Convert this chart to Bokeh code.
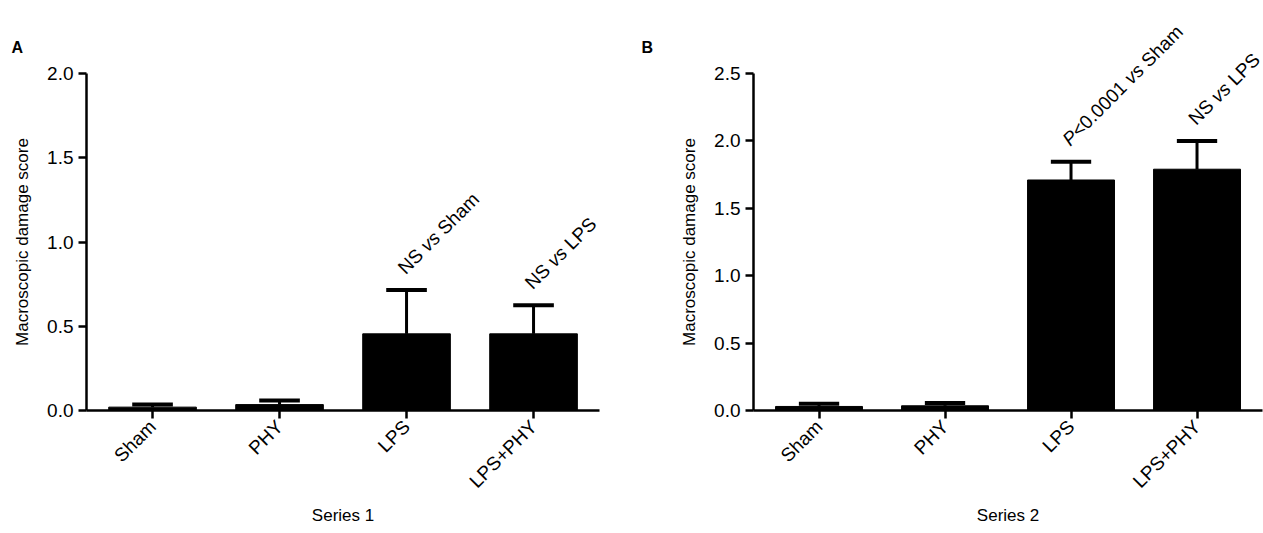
from math import pi

from bokeh.embed import file_html
from bokeh.resources import INLINE
from bokeh.layouts import row
from bokeh.models import (ColumnDataSource, Label, FixedTicker, Range1d, LinearAxis,
                          PrintfTickFormatter)
from bokeh.plotting import figure

groups = ["Sham", "PHY", "LPS", "LPS+PHY"]

mean_a = [0.02, 0.035, 0.455, 0.455]
err_a = [0.015, 0.025, 0.26, 0.17]
mean_b = [0.03, 0.035, 1.71, 1.79]
err_b = [0.02, 0.02, 0.135, 0.21]

yticks_a = [0, 0.5, 1.0, 1.5, 2.0]
yticks_b = [0, 0.5, 1.0, 1.5, 2.0, 2.5]

notes_a = {2: [("NS", "normal"), ("vs", "italic"), ("Sham", "normal")],
           3: [("NS", "normal"), ("vs", "italic"), ("LPS", "normal")]}
notes_b = {2: [("P", "italic"), ("<0.0001", "normal"), ("vs", "italic"), ("Sham", "normal")],
           3: [("NS", "normal"), ("vs", "italic"), ("LPS", "normal")]}

FONT = "Liberation Sans"
CW = {"N": 0.722, "S": 0.667, "v": 0.5, "s": 0.5, "h": 0.556, "a": 0.556,
      "m": 0.833, "L": 0.556, "P": 0.667, "<": 0.584, "0": 0.556, "1": 0.556, ".": 0.278}
H = 525


def text_width(t, size):
    return sum(CW.get(c, 0.55) for c in t) * size


def panel(means, errs, yticks, xlabel, letter, notes, width, axis_px, xscale, yscale):
    ymax = yticks[-1]
    x0 = -0.52 - axis_px / xscale
    y0 = -115 / yscale
    p = figure(width=width, height=H, output_backend="svg", toolbar_location=None,
               x_range=Range1d(x0, x0 + width / xscale), y_range=Range1d(y0, y0 + H / yscale),
               min_border=0, x_axis_location=None, y_axis_location=None)
    p.grid.visible = False
    p.outline_line_color = None

    xs = list(range(len(groups)))
    src = ColumnDataSource(dict(x=xs, top=means, err=[m + e for m, e in zip(means, errs)]))
    p.vbar(x="x", top="top", width=0.69, fill_color="black", line_color="black", source=src)
    p.segment(x0="x", y0="top", x1="x", y1="err", line_width=3, line_color="black", source=src)
    cap = ColumnDataSource(dict(x0=[x - 0.16 for x in xs], x1=[x + 0.16 for x in xs],
                                y=src.data["err"]))
    p.segment(x0="x0", y0="y", x1="x1", y1="y", line_width=4, line_color="black", source=cap)

    xa = LinearAxis(fixed_location=0, bounds=(-0.52, 3.52), ticker=FixedTicker(ticks=xs),
                    major_label_overrides={i: g for i, g in enumerate(groups)},
                    major_label_orientation=pi / 4)
    ya = LinearAxis(fixed_location=-0.52, bounds=(0, ymax), ticker=FixedTicker(ticks=yticks),
                    formatter=PrintfTickFormatter(format="%.1f"),
                    axis_label="Macroscopic damage score", axis_label_standoff=12)
    for ax in (xa, ya):
        ax.axis_line_width = 2.5
        ax.major_tick_line_width = 2.5
        ax.major_tick_out = 8
        ax.major_tick_in = 0
        ax.minor_tick_line_color = None
        ax.major_label_text_font = FONT
        ax.major_label_text_font_size = "19px"
        ax.major_label_text_color = "black"
        ax.axis_label_text_font = FONT
        ax.axis_label_text_font_size = "17px"
        ax.axis_label_text_font_style = "normal"
        ax.axis_label_text_color = "black"
    p.add_layout(xa, "below")
    p.add_layout(ya, "left")

    p.add_layout(Label(x=1.5, y=0, y_offset=-114, text=xlabel, text_align="center",
                       text_font=FONT, text_font_size="17px", text_color="black"))
    p.add_layout(Label(x=-0.52, y=ymax, x_offset=-axis_px + 11, y_offset=18, text=letter,
                       text_font=FONT, text_font_style="bold", text_font_size="16px",
                       text_color="black"))

    size = 19
    gap = 0.278 * size
    for i, parts in notes.items():
        d = 0.0
        for t, style in parts:
            p.add_layout(Label(x=i, y=src.data["err"][i], x_offset=2 + d * 0.7071,
                               y_offset=12 + d * 0.7071, text=t, angle=pi / 4,
                               text_font=FONT, text_font_size=f"{size}px", text_color="black",
                               text_font_style=style, text_baseline="bottom"))
            d += text_width(t, size) + (0 if t == "P" else gap)
    return p


pa = panel(mean_a, err_a, yticks_a, "Series 1", "A", notes_a, 630, 86, 127.0, 168.5)
pb = panel(mean_b, err_b, yticks_b, "Series 2", "B", notes_b, 633, 123, 126.0, 134.8)

layout = row(pa, pb)
open("out.html", "w").write(file_html(layout, INLINE))
